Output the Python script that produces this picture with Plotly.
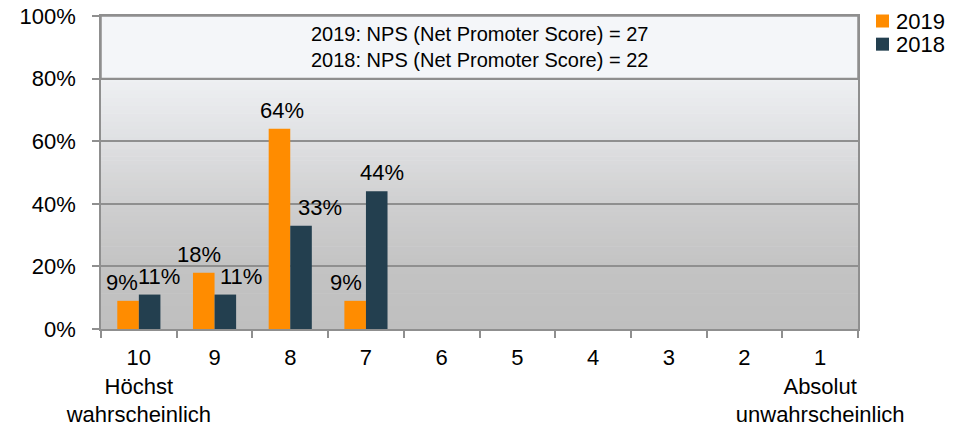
import plotly.graph_objects as go

# ---- data ----
categories = ["10", "9", "8", "7", "6", "5", "4", "3", "2", "1"]
tick_labels = ["10<br>Höchst<br>wahrscheinlich", "9", "8", "7", "6", "5", "4", "3", "2",
               "1<br>Absolut<br>unwahrscheinlich"]
values_2019 = [0.09, 0.18, 0.64, 0.09, 0, 0, 0, 0, 0, 0]
values_2018 = [0.11, 0.11, 0.33, 0.44, 0, 0, 0, 0, 0, 0]
series_names = ["2019", "2018"]
nps_text = ["2019: NPS (Net Promoter Score) = 27", "2018: NPS (Net Promoter Score) = 22"]

# ---- styling ----
COL_2019 = "#FF8C00"
COL_2018 = "#233F4F"
series_colors = [COL_2019, COL_2018]
GRID = "#8f8f8f"
FONT = "Liberation Sans, Arial, sans-serif"
# horizontal label nudges (px) relative to each bar, mimicking the original label placement
nudge_2019 = [-6, -5, 2, -9, 0, 0, 0, 0, 0, 0]
nudge_2018 = [10, 16, 19, 5, 0, 0, 0, 0, 0, 0]
BAR_HALF = 10.6

fig = go.Figure()
fig.add_trace(go.Bar(name=series_names[0], x=categories, y=values_2019, showlegend=False,
                     marker=dict(color=COL_2019, line=dict(width=0))))
fig.add_trace(go.Bar(name=series_names[1], x=categories, y=values_2018, showlegend=False,
                     marker=dict(color=COL_2018, line=dict(width=0))))

annotations = []
for vals, nudges, sign in ((values_2019, nudge_2019, -1), (values_2018, nudge_2018, 1)):
    for idx, (v, dx) in enumerate(zip(vals, nudges)):
        if v > 0:
            annotations.append(dict(x=idx, y=v, xref="x", yref="y", text=f"{round(v*100)}%",
                                    showarrow=False, yanchor="bottom", xanchor="center",
                                    xshift=sign * BAR_HALF + dx, yshift=4,
                                    font=dict(family=FONT, size=22, color="#000000")))

annotations.append(dict(x=0.5, y=0.9, xref="paper", yref="paper",
                        text="<br>".join(nps_text), showarrow=False,
                        xanchor="center", yanchor="middle", align="center",
                        font=dict(family=FONT, size=20, color="#000000")))

# gradient background bands (paper coordinates of plot area)
stops = [(0.0, (0xbf, 0xbf, 0xbf)), (0.2, (0xc3, 0xc3, 0xc3)), (0.4, (0xcf, 0xcf, 0xd0)),
         (0.6, (0xdf, 0xe0, 0xe2)), (0.8, (0xee, 0xf0, 0xf3)), (1.0, (0xf2, 0xf4, 0xf7))]


def col_at(t):
    for (t0, c0), (t1, c1) in zip(stops[:-1], stops[1:]):
        if t0 <= t <= t1:
            f = (t - t0) / (t1 - t0)
            c = [round(a + (b - a) * f) for a, b in zip(c0, c1)]
            return "rgb(%d,%d,%d)" % tuple(c)
    return "rgb(%d,%d,%d)" % stops[-1][1]


shapes = []
N = 80
for i in range(N):
    y0 = i / N
    y1 = (i + 1) / N
    shapes.append(dict(type="rect", xref="paper", yref="paper", x0=0, x1=1, y0=y0, y1=y1 + 0.002,
                       fillcolor=col_at((y0 + y1) / 2), line=dict(width=0), layer="below"))
shapes.append(dict(type="rect", xref="paper", yref="paper", x0=0, x1=1, y0=0.8, y1=1.0,
                   fillcolor="#f4f6f9", line=dict(color=GRID, width=1.5), layer="below"))

# legend (drawn as small squares + labels to match the compact original spacing)
LEG_X_SYM = 1.0238
LEG_X_TXT = 1.047
LEG_Y = [0.984, 0.910]
for name, color, ly in zip(series_names, series_colors, LEG_Y):
    shapes.append(dict(type="rect", xref="paper", yref="paper", xsizemode="pixel",
                       ysizemode="pixel", xanchor=LEG_X_SYM, yanchor=ly,
                       x0=0, x1=13, y0=-6.5, y1=6.5,
                       fillcolor=color, line=dict(width=0)))
    annotations.append(dict(x=LEG_X_TXT, y=ly, xref="paper", yref="paper", text=name,
                            showarrow=False, xanchor="left", yanchor="middle",
                            font=dict(family=FONT, size=22, color="#000000")))

fig.update_layout(
    width=974, height=434,
    margin=dict(l=101, r=116, t=16, b=105, autoexpand=False),
    paper_bgcolor="white",
    plot_bgcolor="rgba(0,0,0,0)",
    barmode="group",
    bargap=0.43,
    bargroupgap=0,
    font=dict(family=FONT, size=22, color="#000000"),
    showlegend=False,
    hovermode=False,
    annotations=annotations,
    shapes=shapes,
)
fig.update_xaxes(
    type="category", categoryorder="array", categoryarray=categories,
    tickmode="array", tickvals=categories, ticktext=tick_labels,
    tickson="boundaries", ticks="outside", ticklen=7, tickwidth=1.5, tickcolor=GRID,
    showline=True, linecolor=GRID, linewidth=1.5, mirror=True,
    showgrid=False, ticklabelstandoff=8, tickangle=0, automargin=False,
    ticklabeloverflow="allow",
    tickfont=dict(family=FONT, size=22, color="#000000"),
)
fig.update_yaxes(
    range=[0, 1], dtick=0.2, tickformat=".0%",
    showgrid=True, gridcolor=GRID, gridwidth=1.5,
    ticks="outside", ticklen=7, tickwidth=1.5, tickcolor=GRID,
    showline=True, linecolor=GRID, linewidth=1.5, mirror=True,
    zeroline=False, ticklabelstandoff=12, automargin=False,
    ticklabeloverflow="allow",
    tickfont=dict(family=FONT, size=22, color="#000000"),
)

fig.write_html("out.html", config={"displayModeBar": False},
               post_script="document.body.style.margin='0';document.body.style.overflow='hidden';")
